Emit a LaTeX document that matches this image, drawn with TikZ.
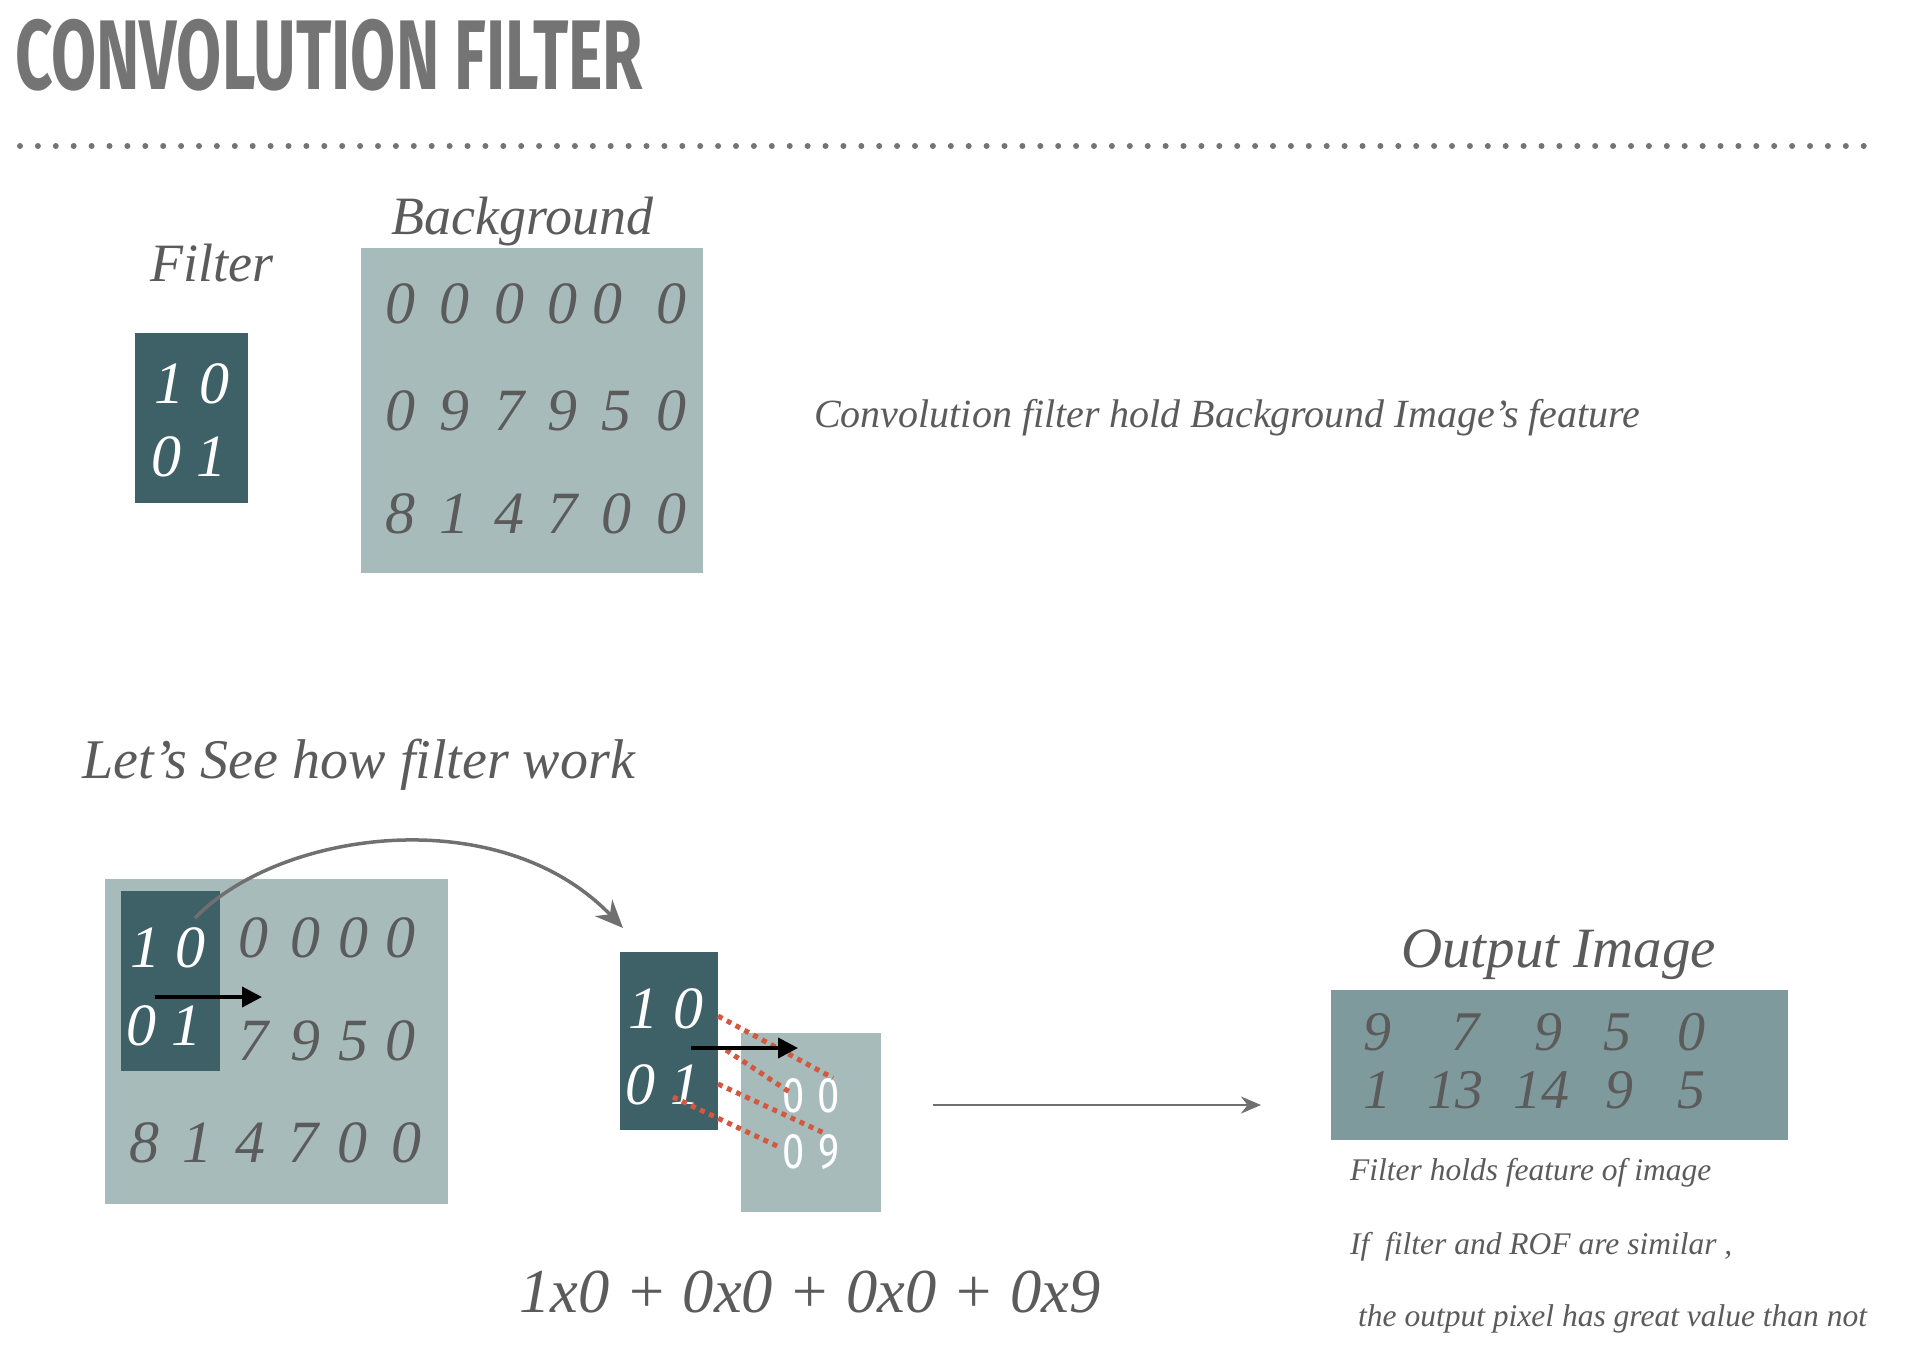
\documentclass[tikz,border=0pt]{standalone}
\usepackage{fontspec}
\usepackage{graphicx}
\setmainfont{Liberation Serif}
\newfontfamily\headfont{Fira Sans}
\usetikzlibrary{arrows.meta}

\definecolor{filterteal}{HTML}{3E6067}
\definecolor{bgteal}{HTML}{A7BBBA}
\definecolor{outteal}{HTML}{7F9A9D}
\definecolor{txtgray}{HTML}{5B5B5B}
\definecolor{titlegray}{HTML}{737473}
\definecolor{dotred}{HTML}{D4573F}
\definecolor{arrowgray}{HTML}{707070}

\tikzset{
    box/.style={
        rectangle,
        inner sep=0pt,
        outer sep=0pt,
        anchor=north west,
    },
    darkbox/.style={box, fill=filterteal},
    lightbox/.style={box, fill=bgteal},
    outbox/.style={box, fill=outteal},
    digit/.style={
        text=txtgray,
        font=\itshape\fontsize{60}{60}\selectfont,
        anchor=base,
        inner sep=0pt,
    },
    wdigit/.style={digit, text=white},
    odigit/.style={digit, font=\itshape\fontsize{56}{56}\selectfont},
    wnum/.style={
        text=white,
        font=\headfont\fontsize{50}{50}\selectfont,
        anchor=base,
        inner sep=0pt,
    },
    caption/.style={
        text=txtgray,
        font=\itshape\fontsize{54}{56}\selectfont,
        anchor=base west,
        inner sep=0pt,
    },
    note/.style={caption, font=\itshape\fontsize{31.5}{33}\selectfont},
    dotrule/.style={
        draw=titlegray,
        line width=6pt,
        line cap=round,
        dash pattern=on 0pt off 17.9pt,
    },
    move/.style={
        draw=black,
        line width=4pt,
        -{Triangle[length=20pt,width=20pt]},
    },
    jump/.style={
        draw=arrowgray,
        line width=3.5pt,
        -{Stealth[length=28pt,width=24pt]},
    },
    link/.style={
        draw=dotred,
        line width=5pt,
        dash pattern=on 5pt off 5pt,
    },
}

\begin{document}
\begin{tikzpicture}[x=1pt, y=-1pt]
    \useasboundingbox (0,0) rectangle (1914,1354);

    % title and rule
    \node[anchor=base west, inner sep=0pt, text=titlegray,
          font=\headfont\bfseries\fontsize{99}{99}\selectfont] (title) at (15,89)
          {\scalebox{0.66}[1]{CONVOLUTION FILTER}};
    \coordinate (rulel) at (20,146);
    \coordinate (ruler) at (1865,146);
    \draw[dotrule] (rulel) -- (ruler);

    % filter and background
    \node[caption] (filtlbl) at (150,281) {Filter};
    \node[darkbox, minimum width=113pt, minimum height=170pt] (filt) at (135,333) {};
    \node[wdigit] (filtA) at (192,403) {1 0};
    \node[wdigit] (filtB) at (189,476) {0 1};

    \node[caption] (bglbl) at (391,234) {Background};
    \node[lightbox, minimum width=342pt, minimum height=325pt] (bg) at (361,248) {};
    \foreach \c/\x/\v in {1/400/0,2/454/0,3/509/0,4/562/0,5/607/0,6/671/0}
        \node[digit] (bgA\c) at (\x,323) {\v};
    \foreach \c/\x/\v in {1/400/0,2/454/9,3/509/7,4/562/9,5/616/5,6/671/0}
        \node[digit] (bgB\c) at (\x,430) {\v};
    \foreach \c/\x/\v in {1/400/8,2/454/1,3/509/4,4/562/7,5/616/0,6/671/0}
        \node[digit] (bgC\c) at (\x,533) {\v};

    \node[caption, font=\itshape\fontsize{40}{42}\selectfont] (convnote) at (814,427)
        {Convolution filter hold Background Image’s feature};

    % how it works
    \node[caption, font=\itshape\fontsize{56}{58}\selectfont] (howlbl) at (82,778)
        {Let’s See how filter work};

    \node[lightbox, minimum width=343pt, minimum height=325pt] (img) at (105,879) {};
    \node[darkbox, minimum width=99pt, minimum height=180pt] (slide) at (121,891) {};
    \node[wdigit] (slideA) at (168,967) {1 0};
    \node[wdigit] (slideB) at (164,1045) {0 1};
    \foreach \c/\x/\v in {1/253/0,2/305/0,3/353/0,4/400/0}
        \node[digit] (imgA\c) at (\x,957) {\v};
    \foreach \c/\x/\v in {1/253/7,2/305/9,3/353/5,4/400/0}
        \node[digit] (imgB\c) at (\x,1060) {\v};
    \foreach \c/\x/\v in {1/144/8,2/197/1,3/250/4,4/303/7,5/352/0,6/406/0}
        \node[digit] (imgC\c) at (\x,1162) {\v};

    \coordinate (slidemove) at (155,997);
    \coordinate (slidestop) at (262,997);
    \draw[move] (slidemove) -- (slidestop);

    \coordinate (jumpfrom) at (195,918);
    \coordinate (jumpto) at (623,928);
    \draw[jump] (jumpfrom) .. controls (280,830) and (500,800) .. (jumpto);

    % zoomed window
    \node[darkbox, minimum width=98pt, minimum height=178pt] (kern) at (620,952) {};
    \node[wdigit] (kernA) at (666,1028) {1 0};
    \node[wdigit] (kernB) at (663,1104) {0 1};
    \node[lightbox, minimum width=140pt, minimum height=179pt] (win) at (741,1033) {};
    \node[wnum] (winA) at (811,1112) {\scalebox{0.8}[1]{0\hspace{16pt}0}};
    \node[wnum] (winB) at (811,1168) {\scalebox{0.8}[1]{0\hspace{16pt}9}};

    \coordinate (ka) at (718,1016);  \coordinate (wa) at (833,1078);
    \coordinate (kb) at (726,1050);  \coordinate (wb) at (791,1093);
    \coordinate (kc) at (718,1084);  \coordinate (wc) at (824,1133);
    \coordinate (kd) at (673,1097);  \coordinate (wd) at (777,1146);
    \draw[link] (ka) -- (wa);
    \draw[link] (kb) -- (wb);
    \draw[link] (kc) -- (wc);
    \draw[link] (kd) -- (wd);

    \coordinate (kernmove) at (691,1048);
    \coordinate (kernstop) at (798,1048);
    \draw[move] (kernmove) -- (kernstop);

    \node[caption, font=\itshape\fontsize{62.5}{63}\selectfont] (sum) at (519,1312)
        {1x0 + 0x0 + 0x0 + 0x9};

    \coordinate (toout) at (933,1105);
    \coordinate (atout) at (1261,1105);
    \draw[draw=arrowgray, line width=2.5pt, -{Stealth[length=20pt,width=17pt]}] (toout) -- (atout);

    % output
    \node[caption, font=\itshape\fontsize{57}{57}\selectfont] (outlbl) at (1401,967) {Output Image};
    \node[outbox, minimum width=457pt, minimum height=150pt] (out) at (1331,990) {};
    \foreach \c/\x/\v in {1/1377/9,2/1465/7,3/1548/9,4/1617/5,5/1691/0}
        \node[odigit] (outA\c) at (\x,1050) {\v};
    \foreach \c/\x/\v in {1/1377/1,2/1455/13,3/1541/14,4/1619/9,5/1691/5}
        \node[odigit] (outB\c) at (\x,1108) {\v};

    \node[note] (noteA) at (1350,1180) {Filter holds feature of image};
    \node[note] (noteB) at (1350,1254) {If\ \ filter and ROF are similar ,};
    \node[note] (noteC) at (1358,1326) {the output pixel has great value than not};
\end{tikzpicture}
\end{document}
